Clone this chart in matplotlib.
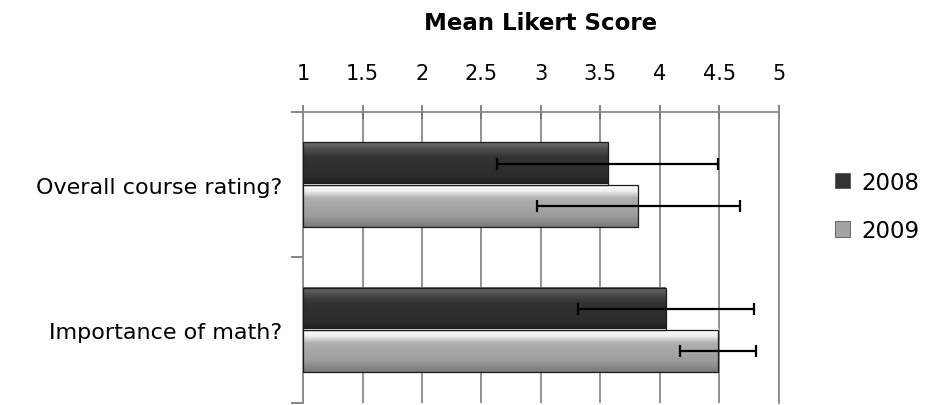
import numpy as np
import matplotlib.pyplot as plt
from matplotlib.colors import LinearSegmentedColormap

# données
categories = ['Overall course rating?', 'Importance of math?']
series = ['2008', '2009']
mean_2008 = [3.56, 4.05]
mean_2009 = [3.82, 4.49]
err_2008 = [0.93, 0.74]
err_2009 = [0.85, 0.32]
xticks = [1, 1.5, 2, 2.5, 3, 3.5, 4, 4.5, 5]

colors = ['#333333', '#a3a3a3']
# dégradés verticaux (haut -> bas) pour l'effet biseau
grads = [
    LinearSegmentedColormap.from_list('g08', [(0, '#6e6e6e'), (0.18, '#4a4a4a'),
                                              (0.35, '#333333'), (0.8, '#2c2c2c'),
                                              (1, '#1c1c1c')]),
    LinearSegmentedColormap.from_list('g09', [(0, '#ffffff'), (0.15, '#f0f0f0'),
                                              (0.32, '#b0b0b0'), (0.75, '#9c9c9c'),
                                              (1, '#7a7a7a')]),
]
BAR_H = 0.29

fig = plt.figure(figsize=(9.31, 4.06), dpi=100)
ax = fig.add_axes([0.3255, 0.005, 0.511, 0.717])

y = np.arange(len(categories))
grad = np.linspace(0, 1, 64).reshape(-1, 1)
for k, (vals, errs) in enumerate([(mean_2008, err_2008), (mean_2009, err_2009)]):
    off = (k - 0.5) * BAR_H
    ax.barh(y + off, np.array(vals) - 1, left=1, height=BAR_H,
            color='none', edgecolor='#1a1a1a', linewidth=0.9, zorder=4)
    for yc, v in zip(y + off, vals):
        ax.imshow(grad, cmap=grads[k], aspect='auto', origin='upper',
                  extent=(1, v, yc + BAR_H / 2, yc - BAR_H / 2), zorder=3)
    # entrées de légende
    ax.barh([0], [0], left=1, height=0, color=colors[k], edgecolor='#555555',
            linewidth=0.6, label=series[k])
    ax.errorbar(vals, y + off, xerr=errs, fmt='none', ecolor='black',
                elinewidth=1.6, capsize=4, capthick=1.6, zorder=5)

ax.set_xlim(1, 5)
ax.set_ylim(1.5, -0.5)
ax.xaxis.tick_top()
ax.set_xticks(xticks)
ax.set_xticklabels([f'{t:g}' for t in xticks], fontsize=15)
ax.tick_params(axis='x', direction='inout', length=10, width=1.2,
               color='#707070', pad=16)
ax.grid(axis='x', color='#8a8a8a', linewidth=1.3, zorder=0)

fig.text(0.581, 0.943, 'Mean Likert Score', fontsize=16.5, fontweight='bold',
         ha='center', va='center')

ax.set_yticks([-0.5, 0.5, 1.5])
ax.set_yticklabels(['', '', ''])
ax.set_yticks(y, minor=True)
ax.set_yticklabels(categories, minor=True, fontsize=16)
ax.tick_params(axis='y', which='minor', length=0, pad=15)
ax.tick_params(axis='y', which='major', length=9, width=1.2, color='#707070')

for side in ['top', 'left', 'right', 'bottom']:
    ax.spines[side].set_color('#8a8a8a')
    ax.spines[side].set_linewidth(1.3)
ax.spines['bottom'].set_visible(False)

ax.legend(loc='center left', bbox_to_anchor=(1.075, 0.675), frameon=False,
          fontsize=16.5, handlelength=0.65, handleheight=0.65,
          handletextpad=0.5, labelspacing=1.1)

fig.savefig('out.png', dpi=100)
